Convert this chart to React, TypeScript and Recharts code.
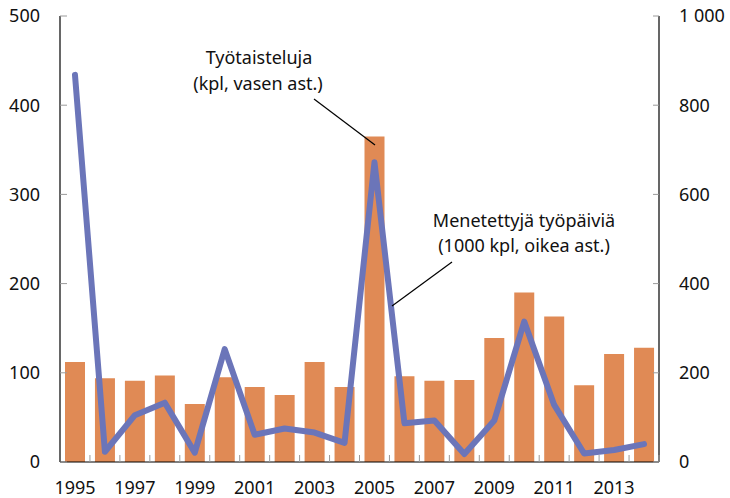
import React from 'react';
import { ComposedChart, Bar, Line, XAxis, YAxis } from 'recharts';

const years = [
  '1995', '1996', '1997', '1998', '1999', '2000', '2001', '2002', '2003', '2004',
  '2005', '2006', '2007', '2008', '2009', '2010', '2011', '2012', '2013', '2014',
];
// Työtaisteluja, kpl (vasen akseli)
const strikes = [112, 94, 91, 97, 65, 95, 84, 75, 112, 84, 365, 96, 91, 92, 139, 190, 163, 86, 121, 128];
// Menetettyjä työpäiviä, 1000 kpl (oikea akseli)
const lostDays = [868, 23, 105, 133, 21, 253, 61, 75, 66, 43, 672, 87, 93, 18, 93, 315, 128, 19, 27, 40];

const leftTicks = [0, 100, 200, 300, 400, 500];
const rightTicks = [0, 200, 400, 600, 800, 1000];

const data = years.map((year, i) => ({ year, strikes: strikes[i], lostDays: lostDays[i] }));

const FONT = '"Noto Sans", sans-serif';
const TICK_GREY = '#9a9a9a';

const fmtRight = (v: number) => (v >= 1000 ? `${Math.floor(v / 1000)}\u00a0${String(v % 1000).padStart(3, '0')}` : String(v));

const LeftTick = (props: any) => {
  const { x, y, payload } = props;
  return (
    <g>
      <line x1={x} x2={x + 7} y1={y} y2={y} stroke={TICK_GREY} strokeWidth={1} />
      <text x={x - 20} y={y} dy="0.35em" textAnchor="end" fontSize={18} fontFamily={FONT} fill="#111">
        {payload.value}
      </text>
    </g>
  );
};

const RightTick = (props: any) => {
  const { x, y, payload } = props;
  return (
    <g>
      <line x1={x} x2={x - 6} y1={y} y2={y} stroke={TICK_GREY} strokeWidth={1} />
      <text x={x + 20} y={y} dy="0.35em" textAnchor="start" fontSize={18} fontFamily={FONT} fill="#111">
        {fmtRight(payload.value)}
      </text>
    </g>
  );
};

const YearTick = (props: any) => {
  const { x, y, payload, index } = props;
  const half = 599 / years.length / 2;
  return (
    <g>
      <line x1={x + half} x2={x + half} y1={y} y2={y - 7} stroke={TICK_GREY} strokeWidth={1} />
      {index % 2 === 0 && (
        <text x={x} y={y + 32} textAnchor="middle" fontSize={18} fontFamily={FONT} fill="#111">
          {payload.value}
        </text>
      )}
    </g>
  );
};

const App = () => {
  return (
    <div style={{ position: 'absolute', left: 0, top: 0, width: 730, height: 498, background: '#fff' }}>
      <ComposedChart width={730} height={498} data={data} margin={{ top: 16, right: 0, left: 0, bottom: 0 }}>
        <XAxis
          dataKey="year"
          height={36}
          interval={0}
          tickSize={0}
          tickMargin={0}
          tickLine={false}
          axisLine={{ stroke: '#000', strokeWidth: 1.2 }}
          tick={<YearTick />}
        />
        <YAxis
          yAxisId="left"
          width={60}
          domain={[0, 500]}
          ticks={leftTicks}
          tickSize={0}
          tickMargin={0}
          tickLine={false}
          axisLine={{ stroke: '#000', strokeWidth: 1.2 }}
          tick={<LeftTick />}
        />
        <YAxis
          yAxisId="right"
          orientation="right"
          width={71}
          domain={[0, 1000]}
          ticks={rightTicks}
          tickSize={0}
          tickMargin={0}
          tickLine={false}
          axisLine={{ stroke: '#000', strokeWidth: 1.2 }}
          tick={<RightTick />}
        />
        <Bar yAxisId="left" dataKey="strikes" fill="#e08a55" barSize={20} isAnimationActive={false} />
        <Line
          yAxisId="right"
          type="linear"
          dataKey="lostDays"
          stroke="#6b75b9"
          strokeWidth={6}
          strokeLinejoin="round"
          strokeLinecap="round"
          dot={false}
          activeDot={false}
          isAnimationActive={false}
        />
      </ComposedChart>
      <svg width={730} height={498} style={{ position: 'absolute', left: 0, top: 0, pointerEvents: 'none' }}>
        <g fontFamily={FONT} fontSize={18} fill="#111" textAnchor="middle">
          <text x={259} y={64}>Työtaisteluja</text>
          <text x={258} y={90}>(kpl, vasen ast.)</text>
          <text x={524} y={227}>Menetettyjä työpäiviä</text>
          <text x={524} y={252}>(1000 kpl, oikea ast.)</text>
        </g>
        <line x1={314} y1={99} x2={375} y2={145} stroke="#000" strokeWidth={1.2} />
        <line x1={452} y1={262} x2={392} y2={306} stroke="#000" strokeWidth={1.2} />
      </svg>
    </div>
  );
};

export default App;
